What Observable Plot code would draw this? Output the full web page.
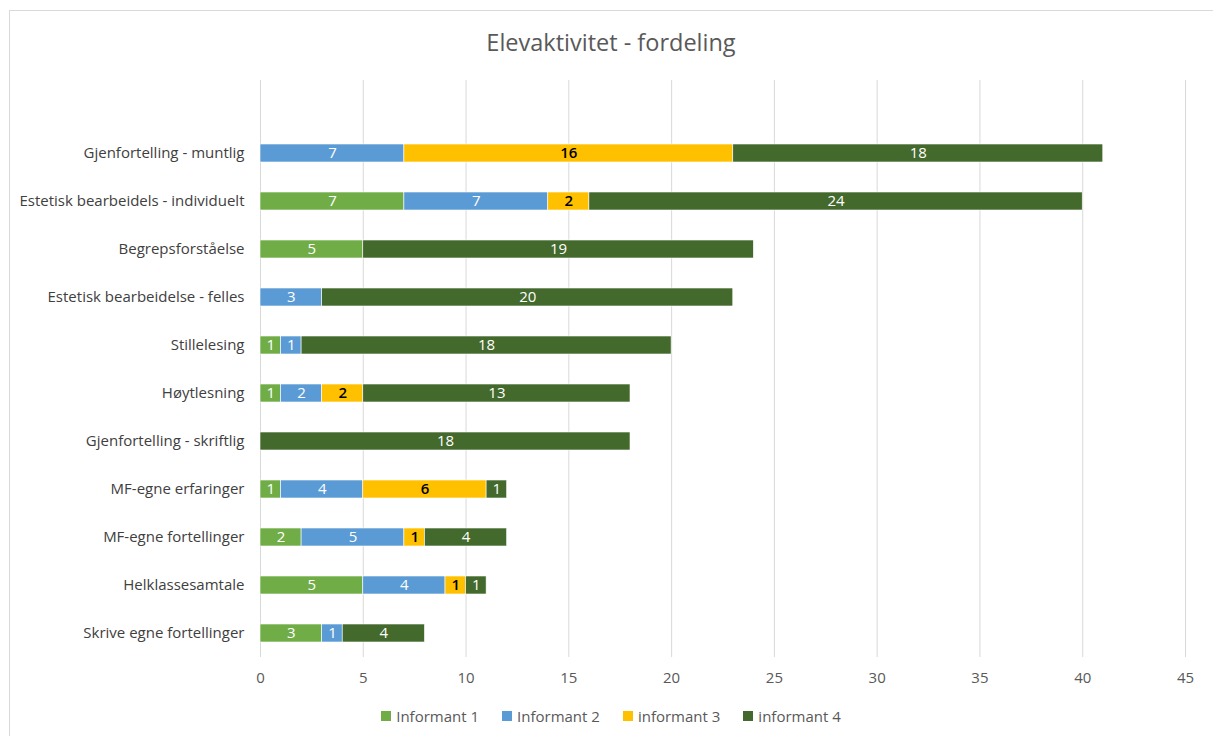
<!DOCTYPE html>
<html>
<head>
<meta charset="utf-8">
<script src="https://cdn.jsdelivr.net/npm/d3@7"></script>
<script src="https://cdn.jsdelivr.net/npm/@observablehq/plot@0.6"></script>
<style>
  html, body { margin: 0; padding: 0; background: #fff; overflow: hidden; width: 1213px; height: 736px; }
  body { font-family: "Open Sans", Lato, sans-serif; position: relative; }
  #frame { position: absolute; left: 9px; top: 10px; width: 1215px; height: 740px; border: 1px solid #d9d9d9; box-sizing: border-box; }
  #title { position: absolute; left: 0; width: 1222px; top: 26px; line-height: 32px; text-align: center; font-size: 23.5px; color: #595959; }
  #chart { position: absolute; left: 0; top: 70px; }
  #legend { position: absolute; left: 0; width: 1222px; top: 706px; line-height: 20px; display: flex; justify-content: center; gap: 23px; font-size: 15px; color: #595959; }
  .item { display: flex; align-items: center; gap: 5px; }
  .sw { width: 10px; height: 10px; display: inline-block; }
</style>
</head>
<body>
<div id="frame"></div>
<div id="title">Elevaktivitet - fordeling</div>
<div id="chart"></div>
<div id="legend"></div>
<script>
const categories = [
  "Gjenfortelling - muntlig",
  "Estetisk bearbeidels - individuelt",
  "Begrepsforståelse",
  "Estetisk bearbeidelse - felles",
  "Stillelesing",
  "Høytlesning",
  "Gjenfortelling - skriftlig",
  "MF-egne erfaringer",
  "MF-egne fortellinger",
  "Helklassesamtale",
  "Skrive egne fortellinger"
];
const informants = ["Informant 1", "Informant 2", "informant 3", "informant 4"];
const informant1 = [0, 7, 5, 0, 1, 1, 0, 1, 2, 5, 3];
const informant2 = [7, 7, 0, 3, 1, 2, 0, 4, 5, 4, 1];
const informant3 = [16, 2, 0, 0, 0, 2, 0, 6, 1, 1, 0];
const informant4 = [18, 24, 19, 20, 18, 13, 18, 1, 4, 1, 4];
const colors = ["#70AD47", "#5B9BD5", "#FFC000", "#44692C"];
const xTicks = [0, 5, 10, 15, 20, 25, 30, 35, 40, 45];

const series = [informant1, informant2, informant3, informant4];
const rows = [];
categories.forEach((c, i) => {
  informants.forEach((inf, j) => {
    const v = series[j][i];
    if (v > 0) rows.push({category: c, informant: inf, value: v});
  });
});

const stackOpts = {x: "value", y: "category", z: "informant", order: informants};

const chart = Plot.plot({
  width: 1213,
  height: 620,
  marginLeft: 260,
  marginRight: 28,
  marginTop: 10,
  marginBottom: 33,
  style: {fontFamily: "'Open Sans', Lato, sans-serif", fontSize: "15px", background: "transparent"},
  x: {domain: [0, 45], ticks: xTicks, label: null},
  y: {domain: categories, insetTop: 48, paddingInner: 0.625, paddingOuter: 0.3125, label: null},
  color: {domain: informants, range: colors},
  marks: [
    Plot.gridX(xTicks, {stroke: "#d9d9d9", strokeOpacity: 1, strokeWidth: 1}),
    Plot.barX(rows, Plot.stackX({...stackOpts, fill: "informant", stroke: "white", strokeWidth: 0.6})),
    Plot.text(rows, Plot.stackX({...stackOpts, text: d => d.informant === "informant 3" ? "" : String(d.value), fill: "white", fontSize: 15})),
    Plot.text(rows, Plot.stackX({...stackOpts, text: d => d.informant === "informant 3" ? String(d.value) : "", fill: "black", fontWeight: "600", fontSize: 15})),
    Plot.axisX(xTicks, {tickSize: 0, tickPadding: 15, fill: "#595959", fontSize: 15, label: null}),
    Plot.axisY({tickSize: 0, tickPadding: 16, fill: "#404040", fontSize: 15, label: null})
  ]
});
document.getElementById("chart").appendChild(chart);

const legend = document.getElementById("legend");
informants.forEach((inf, j) => {
  const item = document.createElement("div");
  item.className = "item";
  const sw = document.createElement("span");
  sw.className = "sw";
  sw.style.background = colors[j];
  const t = document.createElement("span");
  t.textContent = inf;
  item.appendChild(sw);
  item.appendChild(t);
  legend.appendChild(item);
});
</script>
</body>
</html>
